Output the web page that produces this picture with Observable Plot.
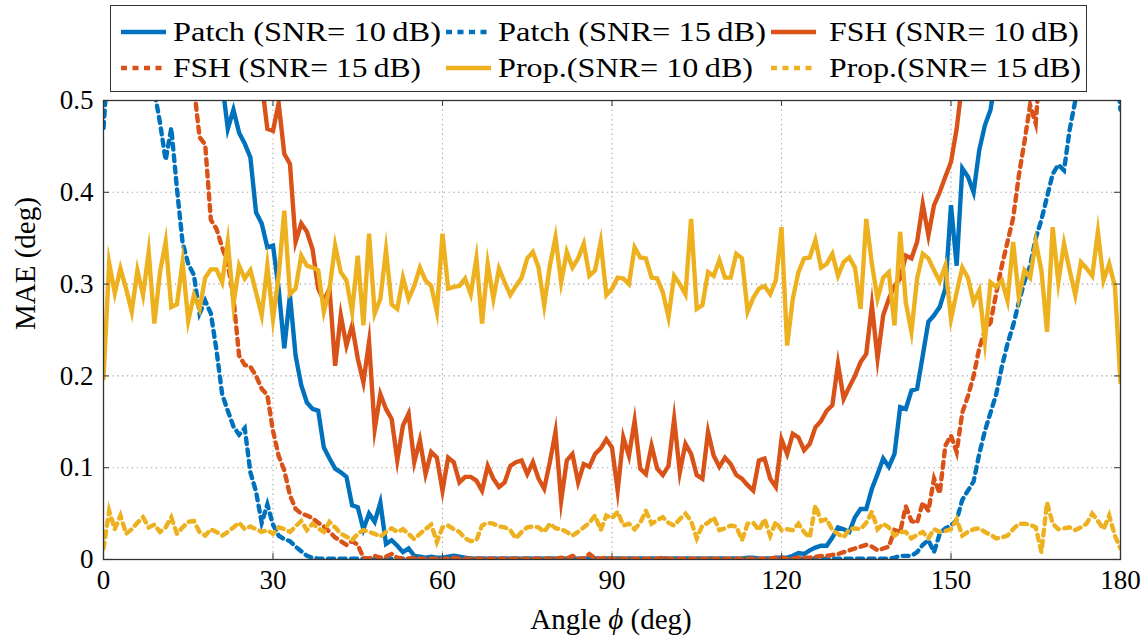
<!DOCTYPE html>
<html><head><meta charset="utf-8">
<script src="https://cdn.jsdelivr.net/npm/d3@7"></script>
<script src="https://cdn.jsdelivr.net/npm/@observablehq/plot@0.6"></script>
<style>
body{margin:0;background:#fff;}
#wrap{position:relative;width:1145px;height:637px;font-family:"Liberation Serif",serif;}
#legend{position:absolute;left:110px;top:5px;width:977px;height:87px;border:1.3px solid #333;background:#fff;box-sizing:border-box;}
.item{position:absolute;height:36px;display:flex;align-items:center;font-size:27px;color:#000;white-space:nowrap;}
.item svg{margin-right:7px;flex:none;}
.item span{display:inline-block;transform-origin:0 50%;}
#xlabel{position:absolute;left:0;width:1222px;top:603px;text-align:center;font-size:29px;color:#000;}
</style></head><body>
<div id="wrap"><div id="chart"></div><div id="legend"></div><div id="xlabel">Angle <i>ϕ</i> (deg)</div></div>
<script>
const xTicks = [0, 30, 60, 90, 120, 150, 180];
const yTicks = [0, 0.1, 0.2, 0.3, 0.4, 0.5];
const yTickLabels = ["0", "0.1", "0.2", "0.3", "0.4", "0.5"];
const yLabel = "MAE (deg)";
const seriesNames = ["Patch (SNR= 10\u2009dB)", "Patch (SNR= 15\u2009dB)", "FSH (SNR= 10\u2009dB)", "FSH (SNR= 15\u2009dB)", "Prop.(SNR= 10\u2009dB)", "Prop.(SNR= 15\u2009dB)"];
const seriesColors = ["#0072BD", "#0072BD", "#D95319", "#D95319", "#EDB120", "#EDB120"];
const seriesDashed = [false, true, false, true, false, true];
const angles = d3.range(0, 181);

const patch10 = [
1.10,1.06,1.02,0.98,0.95,0.92,0.89,0.86,0.83,0.80,0.77,0.74,0.71,0.68,0.66,0.64,0.62,0.60,0.58,0.56,0.545,0.52,
0.469,0.49,0.465,0.453,0.438,0.378,0.366,0.34,0.342,0.295,0.23,0.288,0.222,0.19,0.171,0.164,0.162,0.122,0.11,0.099,0.095,0.09,0.059,0.057,0.033,0.05,0.041,0.062,0.017,0.021,0.015,0.008,0.012,0.004,
0.003,0.002,0.003,0.002,0.002,0.003,0.004,0.003,0.002,0.001,
0.001,0.001,0.001,0.001,0.001,0.001,0.001,0.001,0.001,0.001,
0.001,0.001,0.001,0.001,0.001,0.001,0.001,0.001,0.001,0.001,
0.001,0.001,0.001,0.001,0.001,0.001,0.001,0.001,0.001,0.001,
0.001,0.001,0.001,0.001,0.001,0.001,0.001,0.001,0.001,0.001,
0.001,0.001,0.001,0.001,0.001,0.001,0.001,0.001,0.002,0.002,
0.001,0.001,0.001,0.002,0.002,0.002,
0.004,0.007,0.006,0.01,0.013,0.015,0.015,0.024,0.035,0.033,0.03,0.046,0.055,0.055,0.077,0.093,0.11,0.101,0.115,0.166,0.164,0.184,0.186,0.222,0.259,0.266,0.275,0.295,0.386,0.32,0.426,0.417,0.4,0.446,0.473,0.49,
0.53,0.57,0.61,0.65,0.69,0.73,0.77,0.81,0.85,0.89,0.93,0.97,1.01,1.05,1.09,1.13,1.17,1.21,1.25,1.29,1.33,1.37,1.41];

const patch15 = [
0.47,0.56,0.62,0.66,0.68,0.66,0.63,0.6,0.56,0.51,0.476,0.435,0.47,0.404,0.345,0.322,0.31,0.268,0.282,0.268,0.228,0.18,0.162,0.145,0.136,0.143,0.095,0.074,0.04,0.06,0.038,0.026,0.022,0.02,0.014,0.009,0.004,0.002,
0.001,0.001,0.001,0.001,0.001,0.001,0.001,0.001,0.001,0.001,
0.001,0.001,0.001,0.001,0.001,0.001,0.001,0.001,0.001,0.001,
0.001,0.001,0.001,0.001,0.001,0.001,0.001,0.001,0.001,0.001,
0.001,0.001,0.001,0.001,0.001,0.001,0.001,0.001,0.001,0.001,
0.001,0.001,0.001,0.001,0.001,0.001,0.001,0.001,0.001,0.001,
0.001,0.001,0.001,0.001,0.001,0.001,0.001,0.001,0.001,0.001,
0.001,0.001,0.001,0.001,0.001,0.001,0.001,0.001,0.001,0.001,
0.001,0.001,0.001,0.001,0.001,0.001,0.001,0.001,0.001,0.001,
0.001,0.001,0.001,0.001,0.001,0.001,0.001,0.001,0.001,0.001,
0.001,0.001,0.001,0.001,0.001,0.001,0.001,0.001,0.001,0.001,
0.001,0.001,
0.002,0.004,0.004,0.004,0.008,0.016,0.021,0.008,0.028,0.034,0.037,0.043,0.065,0.075,0.085,0.115,0.14,0.16,0.18,0.21,0.235,0.255,0.28,0.303,0.32,0.35,0.37,0.395,0.42,0.43,0.424,0.468,0.5,0.54,0.58,0.62,0.64,0.63,0.6,0.55,0.49];

const fsh10 = [
1.30,1.27,1.24,1.21,1.18,1.15,1.12,1.09,1.06,1.03,1.00,0.97,0.94,0.91,0.88,0.85,0.82,0.79,0.76,0.73,0.70,0.67,0.65,0.63,0.61,0.59,0.57,0.55,0.52,
0.469,0.467,0.497,0.442,0.431,0.346,0.366,0.357,0.338,0.295,0.282,0.295,0.211,0.266,0.233,0.255,0.219,0.193,0.237,0.142,0.18,0.164,0.153,0.108,0.146,0.159,0.106,0.13,0.093,0.117,0.111,0.075,0.111,0.106,0.084,0.09,
0.09,0.086,0.075,0.102,0.088,0.079,0.084,0.102,0.106,0.108,0.093,0.106,0.088,0.077,0.106,0.139,0.064,0.108,0.115,0.084,0.104,0.101,0.115,0.121,0.131,0.122,0.075,0.133,0.113,0.151,0.099,0.093,0.124,0.099,0.092,0.102,0.153,0.095,0.126,0.115,0.092,0.088,0.139,0.113,0.101,0.111,0.104,0.092,0.088,0.081,0.075,0.108,
0.11,0.088,0.079,0.131,0.115,0.137,0.133,0.119,0.126,0.144,0.151,0.162,0.168,0.213,0.175,0.188,0.2,0.215,0.224,0.277,0.219,0.266,0.284,0.298,0.306,0.331,0.328,0.346,0.387,0.353,0.386,0.4,0.417,0.433,0.469,
0.52,0.56,0.60,0.64,0.68,0.72,0.76,0.80,0.84,0.88,0.92,0.96,1.0,1.04,1.08,1.12,1.16,1.2,1.24,1.28,1.32,1.36,1.4,1.44,1.48,1.52,1.56,1.6,1.64];

const fsh15 = [
1.0,0.97,0.94,0.91,0.88,0.85,0.82,0.79,0.76,0.73,0.70,0.67,0.64,0.61,0.58,0.55,0.515,
0.46,0.452,0.37,0.36,0.34,0.322,0.285,0.222,0.212,0.21,0.2,0.186,0.179,0.14,0.113,0.097,0.07,0.055,0.05,0.048,0.045,0.04,0.036,0.03,0.024,0.02,0.016,0.02,0.016,0.002,0.001,0.004,0.002,0.003,0.006,0.002,
0.001,0.001,0.002,0.001,0.001,0.001,0.001,0.001,0.001,0.002,
0.001,0.001,0.001,0.001,0.001,0.001,0.001,0.001,0.001,0.001,
0.001,0.001,0.001,0.001,0.001,0.001,0.001,0.001,0.002,0.001,
0.004,0.001,0.001,0.006,0.001,0.001,0.002,0.001,0.001,0.001,
0.001,0.001,0.001,0.001,0.001,0.001,0.002,0.001,0.001,0.001,
0.001,0.001,0.001,0.001,0.001,0.001,0.001,0.001,0.001,0.001,
0.001,0.001,0.001,0.001,0.001,0.001,0.002,0.002,0.001,0.001,
0.002,0.002,0.002,0.003,0.004,0.004,0.005,
0.006,0.008,0.01,0.012,0.014,0.016,0.014,0.01,0.012,0.014,0.032,0.03,0.058,0.042,0.04,0.062,0.053,0.088,0.072,0.124,0.135,0.117,0.16,0.178,0.2,0.23,0.25,0.258,0.29,0.32,0.346,0.372,0.418,0.455,0.495,0.475,
0.56,0.62,0.68,0.74,0.8,0.86,0.92,0.98,1.04,1.1,1.16,1.22,1.28,1.34,1.4];

const prop10 = [
0.197,0.323,0.29,0.317,0.295,0.27,0.315,0.288,0.335,0.257,
0.313,0.346,0.275,0.278,0.324,0.26,0.288,0.273,0.307,0.316,
0.316,0.302,0.346,0.278,0.32,0.306,0.315,0.291,0.266,0.32,
0.262,0.309,0.38,0.289,0.295,0.331,0.32,0.318,0.315,0.27,
0.295,0.342,0.313,0.304,0.27,0.331,0.255,0.355,0.268,0.284,
0.337,0.278,0.273,0.307,0.284,0.298,0.318,0.304,0.298,0.27,
0.355,0.295,0.297,0.298,0.306,0.289,0.328,0.257,0.322,0.284,
0.317,0.302,0.288,0.298,0.307,0.328,0.335,0.318,0.277,0.32,
0.351,0.302,0.335,0.318,0.328,0.344,0.309,0.315,0.346,0.288,
0.295,0.307,0.306,0.3,0.34,0.329,0.328,0.307,0.306,0.291,
0.264,0.309,0.3,0.289,0.371,0.273,0.277,0.313,0.309,0.326,
0.307,0.307,0.333,0.328,0.27,0.285,0.295,0.298,0.289,0.304,
0.362,0.233,0.284,0.313,0.328,0.329,0.348,0.318,0.322,0.333,
0.309,0.324,0.329,0.318,0.273,0.371,0.322,0.284,0.307,0.313,
0.255,0.357,0.28,0.248,0.306,0.333,0.328,0.315,0.303,0.32,
0.262,0.291,0.318,0.307,0.28,0.293,0.238,0.302,0.297,0.304,
0.282,0.346,0.286,0.315,0.307,0.346,0.315,0.248,0.362,0.302,
0.344,0.315,0.288,0.324,0.317,0.309,0.357,0.304,0.322,0.298,
0.193];

const prop15 = [
0.012,0.053,0.033,0.048,0.028,0.033,0.04,0.046,0.035,0.038,
0.03,0.035,0.046,0.028,0.035,0.041,0.042,0.03,0.026,0.033,
0.03,0.026,0.03,0.035,0.04,0.033,0.036,0.033,0.03,0.032,
0.028,0.035,0.033,0.03,0.036,0.042,0.032,0.039,0.034,0.03,
0.041,0.035,0.028,0.025,0.021,0.028,0.032,0.03,0.028,0.025,
0.03,0.034,0.03,0.033,0.028,0.022,0.028,0.033,0.038,0.019,
0.035,0.037,0.033,0.03,0.023,0.02,0.021,0.037,0.04,0.039,
0.036,0.035,0.032,0.023,0.03,0.035,0.036,0.035,0.03,0.039,
0.034,0.033,0.03,0.026,0.03,0.035,0.04,0.048,0.032,0.048,
0.045,0.052,0.037,0.039,0.033,0.04,0.053,0.039,0.043,0.046,
0.04,0.037,0.044,0.05,0.042,0.023,0.037,0.04,0.046,0.032,
0.034,0.037,0.036,0.021,0.039,0.04,0.032,0.044,0.026,0.041,
0.032,0.033,0.032,0.039,0.03,0.024,0.059,0.042,0.044,0.032,
0.028,0.024,0.033,0.034,0.033,0.04,0.052,0.033,0.039,0.035,
0.026,0.03,0.03,0.023,0.027,0.03,0.023,0.033,0.03,0.031,
0.033,0.044,0.026,0.03,0.033,0.034,0.03,0.027,0.023,0.024,
0.026,0.033,0.039,0.039,0.038,0.035,0.008,0.062,0.039,0.033,
0.034,0.035,0.032,0.035,0.039,0.05,0.042,0.033,0.048,0.026,
0.012];

const seriesValues = [patch10, patch15, fsh10, fsh15, prop10, prop15];

const W = 1145, H = 637, mL = 103, mR = 25, mT = 100, mB = 78;
const fw = W - mL - mR, fh = H - mT - mB;
const DASH = "6,5.5";
const LW = 4.4;

const lineMarks = seriesValues.map((vals, s) => {
  const rows = angles.filter((a, i) => i < vals.length).map((a, i) => ({angle: a, value: vals[i]}));
  return Plot.line(rows, {x: "angle", y: "value", stroke: seriesColors[s], strokeWidth: LW,
    strokeDasharray: seriesDashed[s] ? DASH : null, strokeLinejoin: "miter", strokeMiterlimit: 10, clip: true});
});

const chart = Plot.plot({
  width: W, height: H, marginLeft: mL, marginRight: mR, marginTop: mT, marginBottom: mB,
  style: {fontFamily: "Liberation Serif, serif", fontSize: "27px", color: "#000", background: "#fff"},
  x: {domain: [0, 180]},
  y: {domain: [0, 0.5]},
  marks: [
    Plot.gridX(xTicks, {stroke: "#9a9a9a", strokeOpacity: 1, strokeWidth: 1.1, strokeDasharray: "1.2,3.6"}),
    Plot.gridY(yTicks, {stroke: "#9a9a9a", strokeOpacity: 1, strokeWidth: 1.1, strokeDasharray: "1.2,3.6"}),
    ...lineMarks,
    Plot.tickX(xTicks, {x: d => d, insetTop: fh - 6, stroke: "#444", strokeWidth: 1.1}),
    Plot.tickX(xTicks, {x: d => d, insetBottom: fh - 6, stroke: "#444", strokeWidth: 1.1}),
    Plot.tickY(yTicks, {y: d => d, insetRight: fw - 6, stroke: "#444", strokeWidth: 1.1}),
    Plot.tickY(yTicks, {y: d => d, insetLeft: fw - 6, stroke: "#444", strokeWidth: 1.1}),
    Plot.frame({stroke: "#333", strokeWidth: 1.3}),
    Plot.axisX(xTicks, {tickSize: 0, tickPadding: 10, label: null, fontSize: 27}),
    Plot.axisY(yTicks, {tickSize: 0, tickPadding: 10, label: null, fontSize: 27, tickFormat: d => yTickLabels[yTicks.indexOf(d)]}),
    Plot.text([yLabel], {frameAnchor: "left", dx: -78, rotate: -90, text: d => d, fontSize: 29, fill: "#000"})
  ]
});
document.getElementById("chart").appendChild(chart);

// legend
const legend = document.getElementById("legend");
const sampleX = [10, 335, 660];
const textGap = [7, 7, 13];
const targetW = [268, 268, 250, 248, 255, 252];
seriesNames.forEach((name, i) => {
  const row = Math.floor(i / 3), col = i % 3;
  const div = document.createElement("div");
  div.className = "item";
  div.style.left = sampleX[col] + "px";
  div.style.top = (row === 0 ? 8 : 44) + "px";
  const dash = seriesDashed[i] ? `stroke-dasharray="${DASH}"` : "";
  div.innerHTML = `<svg width="${45 + textGap[col] - 7}" height="10"><line x1="0" y1="5" x2="45" y2="5" stroke="${seriesColors[i]}" stroke-width="${LW}" ${dash}/></svg><span>${name}</span>`;
  legend.appendChild(div);
  const sp = div.querySelector("span");
  const w = sp.getBoundingClientRect().width;
  if (w > 0) sp.style.transform = `scaleX(${(targetW[i] / w).toFixed(3)})`;
});
</script>
</body></html>
